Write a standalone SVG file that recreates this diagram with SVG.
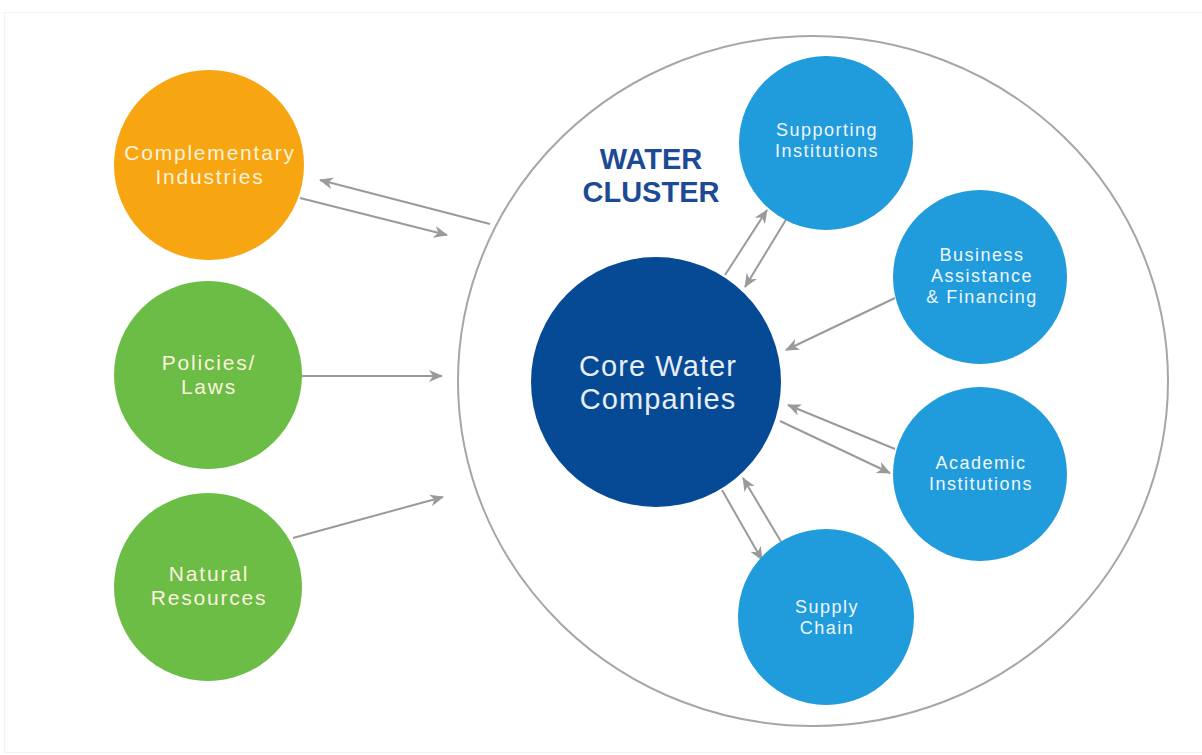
<svg xmlns="http://www.w3.org/2000/svg" width="1202" height="755" viewBox="0 0 1202 755">
<defs>
<marker id="ah" viewBox="0 0 14 12" refX="13" refY="6" markerWidth="14" markerHeight="12" markerUnits="userSpaceOnUse" orient="auto">
<path d="M0,0 L14,6 L0,12 L4,6 z" fill="#9a9a9a"/>
</marker>
<style>
.lbl{font-family:"Liberation Sans",Arial,sans-serif;text-anchor:middle;fill:#ffffff}
.big{font-size:21px;letter-spacing:1.8px;fill:#fdf3df}
.sm{font-size:18px;letter-spacing:1.5px;fill:#eef7fd}
.core{font-size:29px;letter-spacing:1.1px;fill:#e8eef7}
.title{font-family:"Liberation Sans",Arial,sans-serif;font-weight:bold;font-size:29px;fill:#1c4a95;text-anchor:middle}
.conn line{stroke:#9a9a9a;stroke-width:2;marker-end:url(#ah)}
.lb{fill:#209bdb}
.gr{fill:#6bbd45}
</style>
</defs>
<rect x="0" y="0" width="1202" height="755" fill="#ffffff"/>
<rect x="4.5" y="12.5" width="1200" height="740" fill="none" stroke="#f2f2f2" stroke-width="1"/>
<g id="cluster">
<ellipse cx="813" cy="381" rx="355" ry="345" fill="none" stroke="#a6a6a6" stroke-width="2"/>
<text class="title" x="651" y="169">WATER<tspan x="651" dy="33">CLUSTER</tspan></text>
</g>
<g class="conn" id="connectors">
<line x1="490" y1="224" x2="320" y2="180"/>
<line x1="300" y1="198" x2="447" y2="235"/>
<line x1="302" y1="376" x2="442" y2="376"/>
<line x1="293" y1="538" x2="443" y2="497"/>
<line x1="725" y1="275" x2="767" y2="210"/>
<line x1="787" y1="218" x2="745" y2="287"/>
<line x1="895" y1="298" x2="786" y2="350"/>
<line x1="895" y1="449" x2="788" y2="405"/>
<line x1="780" y1="421" x2="890" y2="473"/>
<line x1="722" y1="490" x2="762" y2="560"/>
<line x1="783" y1="545" x2="743" y2="478"/>
</g>
<g id="complementary">
<circle cx="209" cy="165" r="95" fill="#f7a511"/>
<text class="lbl big" x="210" y="160">Complementary<tspan x="210" dy="24">Industries</tspan></text>
</g>
<g id="policies">
<circle class="gr" cx="208" cy="375" r="94"/>
<text class="lbl big" x="209" y="370">Policies/<tspan x="209" dy="24">Laws</tspan></text>
</g>
<g id="natural">
<circle class="gr" cx="208" cy="587" r="94"/>
<text class="lbl big" x="209" y="581">Natural<tspan x="209" dy="24">Resources</tspan></text>
</g>
<g id="core">
<circle cx="656" cy="382" r="125" fill="#064a96"/>
<text class="lbl core" x="658" y="376">Core Water<tspan x="658" dy="33">Companies</tspan></text>
</g>
<g id="supporting">
<circle class="lb" cx="826" cy="143" r="87"/>
<text class="lbl sm" x="827" y="136">Supporting<tspan x="827" dy="21">Institutions</tspan></text>
</g>
<g id="business">
<circle class="lb" cx="980" cy="277" r="87"/>
<text class="lbl sm" x="982" y="261">Business<tspan x="982" dy="21">Assistance</tspan><tspan x="982" dy="21">&amp; Financing</tspan></text>
</g>
<g id="academic">
<circle class="lb" cx="980" cy="474" r="87"/>
<text class="lbl sm" x="981" y="469">Academic<tspan x="981" dy="21">Institutions</tspan></text>
</g>
<g id="supply">
<circle class="lb" cx="826" cy="617" r="88"/>
<text class="lbl sm" x="827" y="613">Supply<tspan x="827" dy="21">Chain</tspan></text>
</g>
</svg>
